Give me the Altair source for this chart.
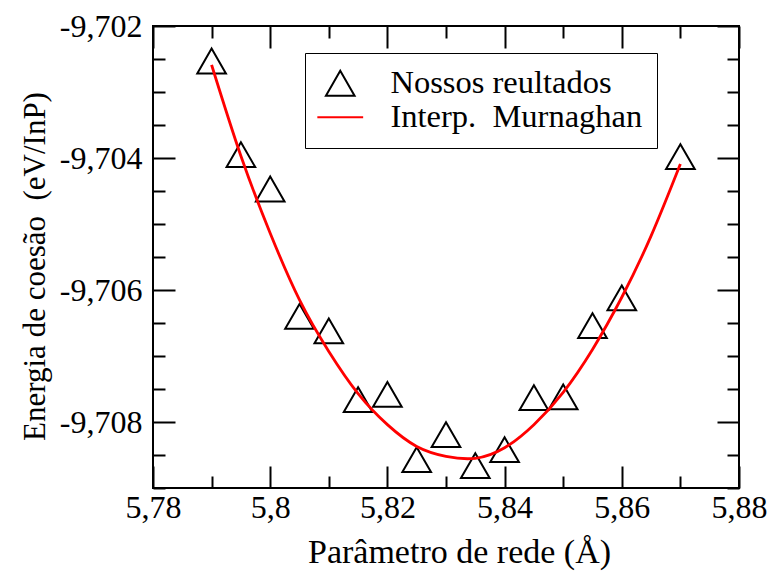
import altair as alt
import pandas as pd

# Series names (legend entries); the no-break space keeps the double spacing
SERIES = ["Nossos reultados", "Interp.\u00a0 Murnaghan"]

# Computed points: lattice parameter (Å) and cohesive energy (eV/InP)
param_pontos = [5.790, 5.795, 5.800, 5.805, 5.810, 5.815, 5.820, 5.825,
                5.830, 5.835, 5.840, 5.845, 5.850, 5.855, 5.860, 5.870]
energia_pontos = [-9.70253, -9.70395, -9.70447, -9.70640, -9.70662, -9.70766,
                  -9.70758, -9.70857, -9.70819, -9.70866, -9.70842, -9.70763,
                  -9.70762, -9.70654, -9.70612, -9.70398]

# Murnaghan fit sampled along the lattice parameter
param_curva = [5.790, 5.795, 5.800, 5.805, 5.810, 5.815, 5.820, 5.825, 5.830,
               5.835, 5.840, 5.845, 5.850, 5.855, 5.860, 5.865, 5.870]
energia_curva = [-9.70259, -9.70397, -9.70514, -9.70615, -9.70693, -9.70757,
                 -9.70804, -9.70837, -9.70852, -9.70855, -9.70839, -9.70804,
                 -9.70755, -9.70690, -9.70611, -9.70518, -9.70409]

# Axis labels and tick positions
x_rotulos = [5.78, 5.80, 5.82, 5.84, 5.86, 5.88]
x_marcas = [5.78, 5.79, 5.80, 5.81, 5.82, 5.83, 5.84, 5.85, 5.86, 5.87, 5.88]
y_rotulos = [-9.702, -9.704, -9.706, -9.708]
y_marcas = [-9.702, -9.7025, -9.703, -9.7035, -9.704, -9.7045, -9.705, -9.7055,
            -9.706, -9.7065, -9.707, -9.7075, -9.708, -9.7085, -9.709]

W, H = 586, 462
FONT = "Liberation Serif"
COMMA = "replace(toString(datum.value), '.', ',')"

pontos_df = pd.DataFrame({"a": param_pontos, "e": energia_pontos, "serie": SERIES[0]})
curva_df = pd.DataFrame({"a": param_curva, "e": energia_curva})

xs = alt.Scale(domain=[5.78, 5.88], nice=False, zero=False)
ys = alt.Scale(domain=[-9.709, -9.702], nice=False, zero=False)

X_MINOR = "round(datum.value * 100) % 2 != 0"
Y_MINOR = "abs(round(datum.value * 10000)) % 20 != 0"


def tick_axis(orient, offset, values, minor_test):
    # inward-pointing ticks: major ticks long, minor ones cut short by a dash
    return alt.Axis(
        orient=orient, offset=offset, values=values, labels=False, title=None,
        domain=False, grid=False, ticks=True, tickSize=22, tickWidth=2,
        tickColor="black",
        tickDash={"condition": {"test": minor_test, "value": [12, 60]}, "value": []},
    )


x_main = alt.Axis(
    orient="bottom", values=x_rotulos, labelExpr=COMMA, ticks=False, tickSize=0,
    domain=False, grid=False, labelPadding=4, labelFont=FONT, labelFontSize=32,
    labelColor="black", labelFlush=False, labelOverlap=False,
    title="Parâmetro de rede (Å)", titleFont=FONT, titleFontSize=34,
    titleFontWeight="normal", titleColor="black", titleX=306, titleY=74,
    titleBaseline="alphabetic", titleAlign="center",
)
y_main = alt.Axis(
    orient="left", values=y_rotulos, labelExpr=COMMA, ticks=False, tickSize=0,
    domain=False, grid=False, labelPadding=11, labelFont=FONT, labelFontSize=32,
    labelColor="black", labelFlush=False, labelOverlap=False,
    title="Energia de coesão\u00a0 (eV/InP)", titleFont=FONT, titleFontSize=31,
    titleFontWeight="normal", titleColor="black", titleX=-109, titleY=240,
    titleAngle=270, titleBaseline="alphabetic", titleAlign="center",
)

leg = alt.Legend(
    title=None, orient="none", legendX=152, legendY=27, direction="vertical",
    strokeColor="black", fillColor="white", padding=14, symbolSize=820,
    symbolStrokeWidth=2, symbolOffset=5, labelFont=FONT, labelFontSize=32.5,
    labelColor="black", labelOffset=34, rowPadding=1, labelLimit=0,
)

pontos = alt.Chart(pontos_df).mark_point(
    filled=False, size=820, strokeWidth=2, opacity=1
).encode(
    x=alt.X("a:Q", scale=xs, axis=tick_axis("top", -H, x_marcas, X_MINOR)),
    y=alt.Y("e:Q", scale=ys, axis=tick_axis("right", -W, y_marcas, Y_MINOR)),
    color=alt.Color("serie:N", scale=alt.Scale(domain=SERIES, range=["black", "red"]), legend=leg),
    shape=alt.Shape("serie:N", scale=alt.Scale(domain=SERIES, range=["triangle-up", "M-1.6,0L1.6,0"]), legend=leg),
)

curva = alt.Chart(curva_df).mark_line(
    color="red", strokeWidth=2.8, interpolate="natural"
).encode(
    x=alt.X("a:Q", scale=xs, axis=x_main),
    y=alt.Y("e:Q", scale=ys, axis=y_main),
)

# transparent copy of the points that carries the top and right tick rows
marcas = alt.Chart(pontos_df).mark_point(opacity=0).encode(
    x=alt.X("a:Q", scale=xs, axis=tick_axis("bottom", -H, x_marcas, X_MINOR)),
    y=alt.Y("e:Q", scale=ys, axis=tick_axis("left", -W, y_marcas, Y_MINOR)),
)

chart = alt.layer(pontos, curva, marcas).resolve_axis(
    x="independent", y="independent"
).properties(
    width=W, height=H,
    autosize=alt.AutoSizeParams(type="none"),
    padding={"left": 153, "top": 26, "right": 32, "bottom": 85},
    background="white",
).configure(
    font=FONT
).configure_axis(
    labelFont=FONT, titleFont=FONT
).configure_legend(
    labelFont=FONT, titleFont=FONT
).configure_view(
    stroke="black", strokeWidth=2
)

chart.save("out.html", embed_options={"renderer": "svg", "actions": False})
